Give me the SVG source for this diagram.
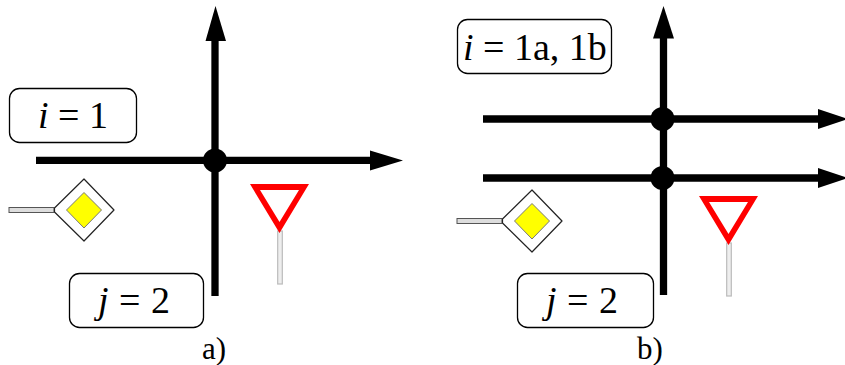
<svg xmlns="http://www.w3.org/2000/svg" width="845" height="365" viewBox="0 0 845 365">
<style>
.box{fill:#fff;stroke:#000;stroke-width:1.3}
.t{font-family:"Liberation Serif",serif;font-size:38px;fill:#000}
.c{font-family:"Liberation Serif",serif;font-size:31px;fill:#000}
.i{font-style:italic}
.road{stroke:#000;stroke-width:7.3;fill:none}
.head{fill:#000}
.pole{fill:#ddd;stroke:#555;stroke-width:1}
.polev{fill:#eee;stroke:#bbb;stroke-width:1.2}
.yield{fill:#f00;fill-rule:evenodd}
.dia{fill:#fff;stroke:#222;stroke-width:1.2;stroke-linejoin:round}
.yel{fill:#ff0;stroke:#777;stroke-width:1}
</style>
<defs>
<g id="prio">
<rect class="pole" x="-75" y="-2.500" width="45" height="5"/>
<path class="dia" d="M0-31L30 0L0 31L-29.500 2V-2Z"/>
<path class="yel" d="M0-17.500L17.500 0L0 18L-17.500 0Z"/>
</g>
<g id="yld">
<rect class="polev" x="-2.300" y="-2" width="4.600" height="53"/>
<path class="yield" d="M-30-49H29L-0.500 0ZM-20-43L-0.500-11L19-43Z"/>
</g>
</defs>
<g id="connectors">
<path class="road" d="M215 296V38"/>
<path class="head" d="M215.500 6L226 41H205.500Z"/>
<path class="road" d="M36 160.400H372"/>
<path class="head" d="M403 160.500L370 150.500V170.500Z"/>
<path class="road" d="M663.500 295V36"/>
<path class="head" d="M663.500 6L674 38.500H653Z"/>
<path class="road" d="M483 119H820"/>
<path class="head" d="M848 119L818 109V129Z"/>
<path class="road" d="M483 178H820"/>
<path class="head" d="M848 178L818 168V188Z"/>
</g>
<g id="junction-a"><circle cx="215" cy="160.500" r="12" fill="#000"/></g>
<g id="junction-b1"><circle cx="662.500" cy="119" r="12" fill="#000"/></g>
<g id="junction-b2"><circle cx="662.500" cy="178" r="12" fill="#000"/></g>
<g id="label-i-a"><rect class="box" x="9.500" y="88.500" width="127" height="54" rx="10"/>
<text class="t" x="38" y="128"><tspan class="i">i</tspan> = 1</text></g>
<g id="label-j-a"><rect class="box" x="69.500" y="273.500" width="134" height="54" rx="10"/>
<text class="t" x="98" y="313" word-spacing="1"><tspan class="i">j</tspan> = 2</text></g>
<g id="label-i-b"><rect class="box" x="457.500" y="19.500" width="154" height="54" rx="10"/>
<text class="t" x="463" y="60"><tspan class="i">i</tspan> = 1a, 1b</text></g>
<g id="label-j-b"><rect class="box" x="517.500" y="273.500" width="136" height="54" rx="10"/>
<text class="t" x="546" y="313" word-spacing="1"><tspan class="i">j</tspan> = 2</text></g>
<g id="sign-priority-a"><use href="#prio" x="84" y="210"/></g>
<g id="sign-priority-b"><use href="#prio" x="532" y="221"/></g>
<g id="sign-yield-a"><use href="#yld" x="280" y="233"/></g>
<g id="sign-yield-b"><use href="#yld" x="729" y="245"/></g>
<g id="caption-a"><text class="c" x="202" y="359">a)</text></g>
<g id="caption-b"><text class="c" x="637" y="359">b)</text></g>
</svg>
